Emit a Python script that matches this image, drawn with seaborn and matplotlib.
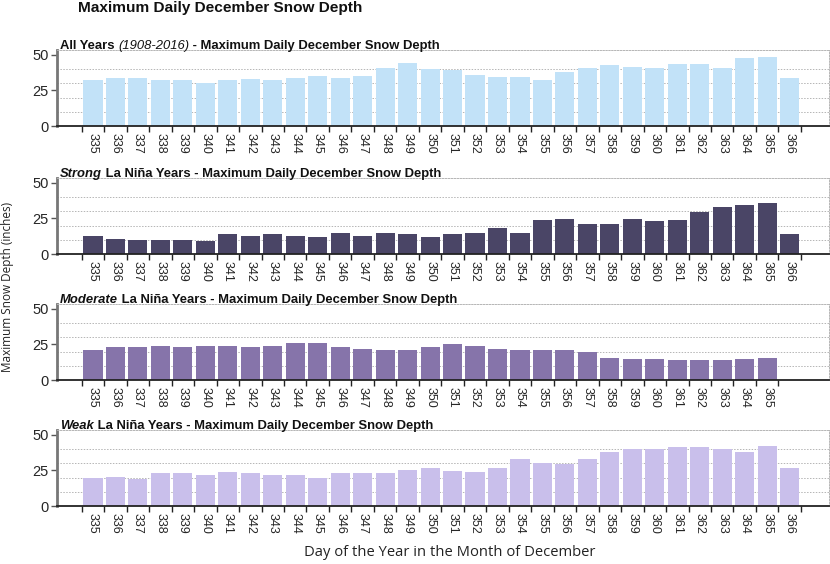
import matplotlib.pyplot as plt
import seaborn as sns
import pandas as pd
from matplotlib.ticker import FixedLocator

# day of year in December
days = list(range(335, 367))
days_moderate = list(range(335, 366))

# max daily snow depth (inches)
all_years = [32.2, 33.8, 33.8, 32.2, 32.2, 30.5, 32.2, 32.9, 32.4, 33.8, 35.0, 33.8, 35.0, 40.6, 44.1, 40.1,
             39.2, 35.7, 34.7, 34.7, 32.6, 38.0, 40.6, 43.0, 41.5, 41.1, 43.4, 43.4, 41.1, 48.1, 48.6, 33.8]
strong = [13.0, 10.9, 10.0, 10.0, 10.0, 9.2, 14.0, 13.0, 14.0, 13.0, 11.8, 14.9, 13.0, 14.9, 14.0, 11.8,
          14.0, 14.9, 18.0, 14.9, 23.9, 24.9, 20.9, 20.9, 24.9, 23.0, 23.9, 29.9, 32.9, 34.8, 35.8, 14.0]
moderate = [20.9, 23.0, 23.0, 24.0, 23.0, 24.0, 24.0, 23.0, 24.0, 26.0, 26.0, 23.0, 21.8, 20.9, 20.9, 23.0,
            25.0, 24.0, 21.8, 20.9, 20.9, 20.9, 19.9, 15.8, 14.8, 14.8, 13.8, 13.8, 13.8, 14.8, 15.8]
weak = [19.8, 20.7, 19.3, 23.0, 23.0, 21.7, 24.1, 23.0, 21.7, 21.7, 19.8, 23.0, 23.0, 23.0, 25.0, 26.8,
        24.9, 23.9, 26.8, 33.4, 30.0, 29.5, 33.4, 38.0, 39.8, 39.8, 41.2, 41.2, 40.0, 38.3, 42.2, 26.8]

suffix = ' - Maximum Daily December Snow Depth'
panels = [
    ([('All Years ', 'bold', 'normal'), ('(1908-2016)', 'normal', 'italic'), (suffix, 'bold', 'normal')],
     days, all_years, '#c2e2f8'),
    ([('Strong', 'bold', 'italic'), (' La Niña Years' + suffix, 'bold', 'normal')],
     days, strong, '#4a4566'),
    ([('Moderate', 'bold', 'italic'), (' La Niña Years' + suffix, 'bold', 'normal')],
     days_moderate, moderate, '#8674aa'),
    ([('Weak', 'bold', 'italic'), (' La Niña Years' + suffix, 'bold', 'normal')],
     days, weak, '#c9bfeb'),
]

sns.set_style('ticks')
plt.rcParams['font.family'] = ['Liberation Sans', 'DejaVu Sans']
narrow = ['Liberation Sans Narrow', 'Liberation Sans']

fig = plt.figure(figsize=(8.3, 5.64), dpi=100)
W, H = 830, 564
zero_px = [126, 254, 380, 506]

for (parts, xs, ys, color), zp in zip(panels, zero_px):
    ax = fig.add_axes([57 / W, (H - zp) / H, 772 / W, 76 / H])
    df = pd.DataFrame({'day': [str(d) for d in xs], 'depth': ys})
    sns.barplot(data=df, x='day', y='depth', color=color, saturation=1, width=0.85,
                edgecolor='none', ax=ax)
    n = len(xs)
    ax.set_xlim(-1.6, 32.75)
    ax.set_ylim(0, 53.5)
    ax.set_yticks([0, 25, 50])
    for g in [10, 20, 30, 40]:
        ax.axhline(g, color='#b5b5b5', lw=0.7, ls=(0, (1.5, 1.5)), zorder=0)
    ax.set_xticks(range(n))
    ax.set_xticklabels([str(d) for d in xs], rotation=-90, family=narrow, fontsize=9)
    ax.xaxis.set_minor_locator(FixedLocator([i - 0.5 for i in range(n + 1)]))
    ax.tick_params(axis='x', which='major', length=0, pad=5)
    ax.tick_params(axis='x', which='minor', length=4, width=1, color='#222222')
    ax.tick_params(axis='y', length=4, width=1, color='#555555', pad=2, labelsize=10.5)
    for lab in ax.get_yticklabels():
        lab.set_family(narrow)
    ax.set_xlabel('')
    ax.set_ylabel('')
    ax.patch.set_alpha(0)
    ax.spines['left'].set_color('#777777')
    ax.spines['left'].set_linewidth(2)
    ax.spines['bottom'].set_color('#222222')
    ax.spines['bottom'].set_linewidth(1.3)
    for s in ['top', 'right']:
        ax.spines[s].set_visible(True)
        ax.spines[s].set_color('#b5b5b5')
        ax.spines[s].set_linewidth(0.7)
        ax.spines[s].set_linestyle((0, (1.5, 1.5)))

    # panel title with mixed bold / italic pieces
    first_text, w, st = parts[0]
    prev = ax.text(0.004, 0.975, first_text, transform=ax.transAxes, ha='left', va='bottom',
                   fontsize=9.4, fontweight=w, fontstyle=st, color='#111111')
    for txt, w, st in parts[1:]:
        prev = ax.annotate(txt, xy=(1, 0), xycoords=prev, ha='left', va='bottom',
                           fontsize=9.4, fontweight=w, fontstyle=st, color='#111111')

fig.text(78 / W, 1 - 8 / H, 'Maximum Daily December Snow Depth', ha='left', va='center',
         fontsize=11.1, fontweight='bold', color='#111111')
fig.text(450 / W, 1 - 553 / H, 'Day of the Year in the Month of December', ha='center', va='center',
         fontsize=10.6, family=['Open Sans', 'DejaVu Sans'], color='#222222')
fig.text(8 / W, 1 - 287 / H, 'Maximum Snow Depth (inches)', ha='center', va='center', rotation=90,
         fontsize=8.5, family=['Open Sans', 'DejaVu Sans'], color='#222222')

fig.savefig('out.png', dpi=100, facecolor='white')
